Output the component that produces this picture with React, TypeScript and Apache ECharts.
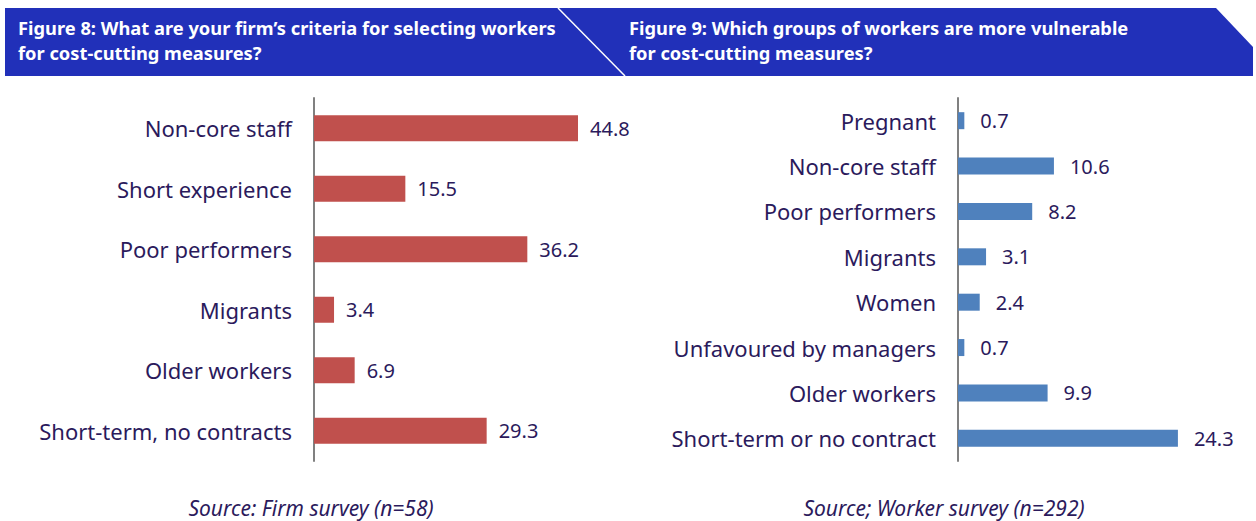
import React, { useEffect, useRef } from "react";
import * as echarts from "echarts";

const firmCategories = [
  "Non-core staff",
  "Short experience",
  "Poor performers",
  "Migrants",
  "Older workers",
  "Short-term, no contracts",
];
const firmValues = [44.8, 15.5, 36.2, 3.4, 6.9, 29.3];

const workerCategories = [
  "Pregnant",
  "Non-core staff",
  "Poor performers",
  "Migrants",
  "Women",
  "Unfavoured by managers",
  "Older workers",
  "Short-term or no contract",
];
const workerValues = [0.7, 10.6, 8.2, 3.1, 2.4, 0.7, 9.9, 24.3];

const title8 = ["Figure 8: What are your firm\u2019s criteria for selecting workers", "for cost-cutting measures?"];
const title9 = ["Figure 9: Which groups of workers are more vulnerable", "for cost-cutting measures?"];
const source8 = "Source: Firm survey (n=58)";
const source9 = "Source; Worker survey (n=292)";

const FONT = "'Noto Sans', 'Open Sans', sans-serif";
const TEXT = "#2B1A5C";
const BLUE = "#2130B9";

export default function App() {
  const ref = useRef<HTMLDivElement>(null);
  useEffect(() => {
    const chart = echarts.init(ref.current!, null, { renderer: "svg" });
    const catAxis = (idx: number, data: string[]) => ({
      type: "category",
      gridIndex: idx,
      data,
      inverse: true,
      axisLine: { show: true, lineStyle: { color: "#808080", width: 2 } },
      axisTick: { show: false },
      axisLabel: { color: TEXT, fontSize: 22, fontFamily: FONT, margin: 22 },
    });
    const valAxis = (idx: number, max: number) => ({
      type: "value",
      gridIndex: idx,
      min: 0,
      max,
      show: false,
      splitLine: { show: false },
    });
    const titleStyle = (text: string) => ({
      text,
      fill: "#fff",
      font: `bold 18.3px ${FONT}`,
      textVerticalAlign: "middle",
    });
    chart.setOption({
      animation: false,
      grid: [
        { left: 314, top: 98, height: 363, width: 50 * 5.893 },
        { left: 958, top: 98, height: 363, width: 30 * 9.05 },
      ],
      xAxis: [valAxis(0, 50), valAxis(1, 30)],
      yAxis: [catAxis(0, firmCategories), catAxis(1, workerCategories)],
      series: [
        {
          type: "bar",
          xAxisIndex: 0,
          yAxisIndex: 0,
          data: firmValues,
          barWidth: 26,
          itemStyle: { color: "#C0504D" },
          label: {
            show: true,
            position: "right",
            distance: 12,
            color: TEXT,
            fontSize: 20,
            fontFamily: FONT,
            formatter: (p: any) => p.value.toFixed(1),
          },
        },
        {
          type: "bar",
          xAxisIndex: 1,
          yAxisIndex: 1,
          data: workerValues,
          barWidth: 17,
          itemStyle: { color: "#4F81BD" },
          label: {
            show: true,
            position: "right",
            distance: 16,
            color: TEXT,
            fontSize: 20,
            fontFamily: FONT,
            formatter: (p: any) => p.value.toFixed(1),
          },
        },
      ],
      graphic: [
        {
          type: "polygon",
          shape: { points: [[5, 8], [1216, 8], [1253, 47], [1253, 76], [5, 76]] },
          style: { fill: BLUE },
          z: 0,
        },
        {
          type: "line",
          shape: { x1: 558, y1: 8, x2: 625, y2: 76 },
          style: { stroke: "#ffffff", lineWidth: 1.5 },
          z: 1,
        },
        { type: "text", x: 18, y: 27, style: titleStyle(title8[0]), z: 2 },
        { type: "text", x: 18, y: 52, style: titleStyle(title8[1]), z: 2 },
        { type: "text", x: 629, y: 27, style: titleStyle(title9[0]), z: 2 },
        { type: "text", x: 629, y: 52, style: titleStyle(title9[1]), z: 2 },
        {
          type: "text",
          x: 311,
          y: 508,
          style: { text: source8, fill: TEXT, font: `italic 21px ${FONT}`, textAlign: "center", textVerticalAlign: "middle" },
        },
        {
          type: "text",
          x: 944,
          y: 508,
          style: { text: source9, fill: TEXT, font: `italic 21px ${FONT}`, textAlign: "center", textVerticalAlign: "middle" },
        },
      ],
    });
    return () => chart.dispose();
  }, []);
  return (
    <div
      ref={ref}
      style={{ position: "absolute", left: 0, top: 0, width: 1256, height: 521, background: "#fff" }}
    />
  );
}
